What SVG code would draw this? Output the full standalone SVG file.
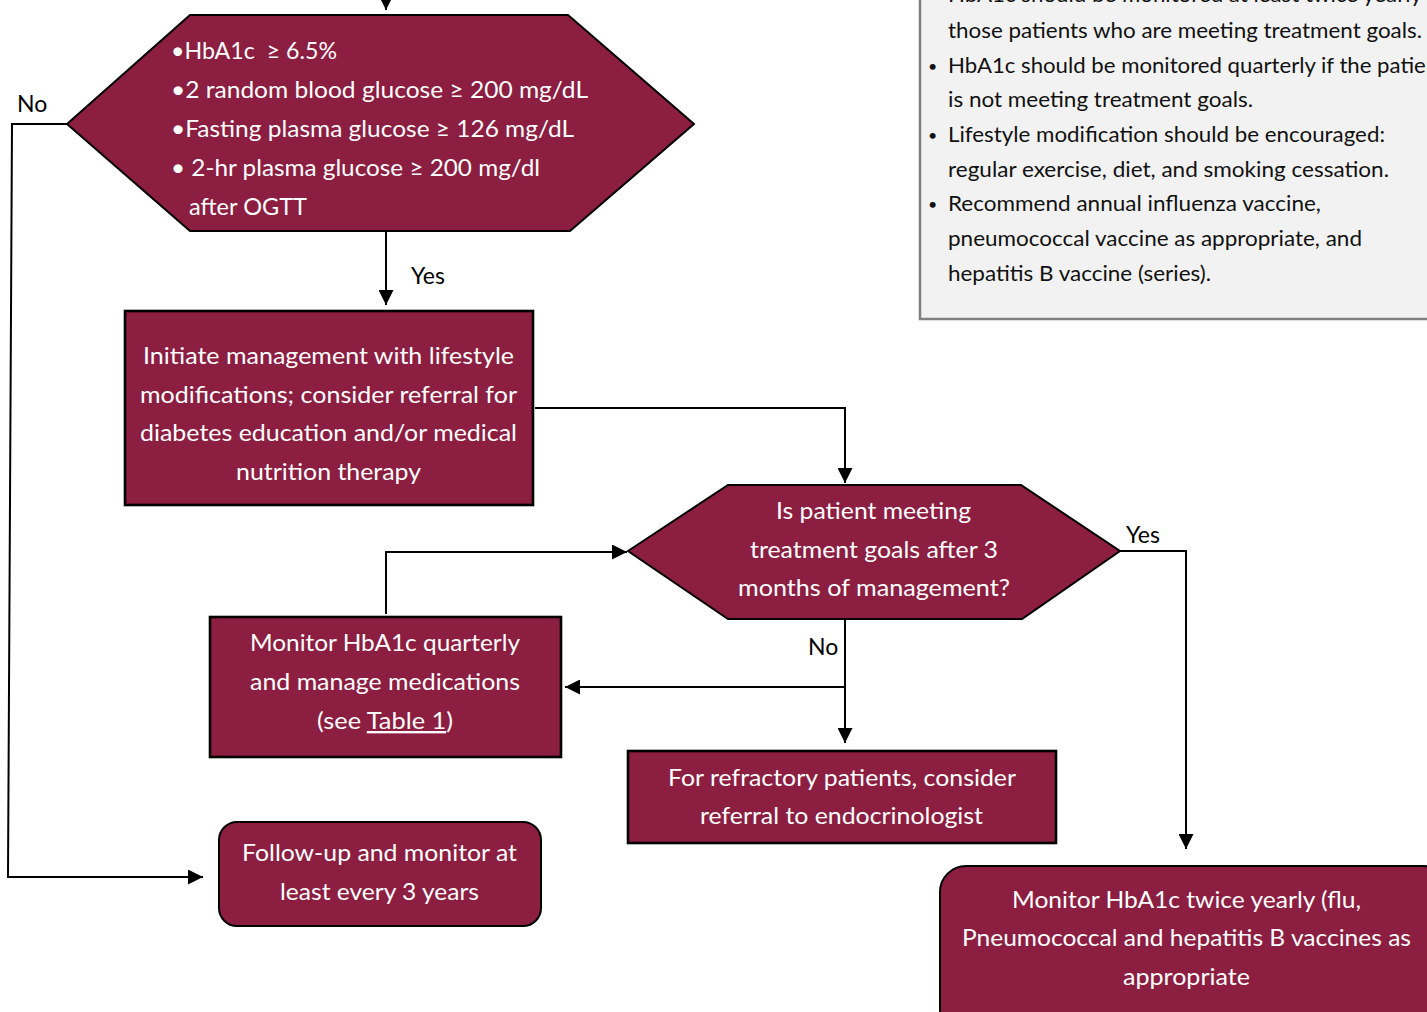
<svg xmlns="http://www.w3.org/2000/svg" width="1427" height="1012" viewBox="0 0 1427 1012">
<style>
.node{fill:#8b1e41;stroke:#000;stroke-width:2}
.thick{stroke-width:2.6}
.w{fill:#fff;font-family:Lato,"Liberation Sans",sans-serif;font-size:23.5px}
.lbl{fill:#000;font-family:Lato,"Liberation Sans",sans-serif;font-size:23px}
.note{fill:#111;font-family:Lato,"Liberation Sans",sans-serif;font-size:21.5px}
.bul{fill:#111;font-family:Lato,"Liberation Sans",sans-serif;font-size:16px}
.conn{fill:none;stroke:#000;stroke-width:2}
</style>
<defs>
<marker id="ah" markerUnits="userSpaceOnUse" markerWidth="15" markerHeight="15" refX="15" refY="7.5" orient="auto">
<path d="M0,0 L15,7.5 L0,15 z" fill="#000"/>
</marker>
</defs>
<rect width="1427" height="1012" fill="#fff"/>

<g id="notes">
<rect x="920" y="-10" width="520" height="329" fill="#f2f2f2" stroke="#808080" stroke-width="2.5"/>
<text class="bul" x="928" y="0">•</text>
<text class="note" x="948" y="2" textLength="474" lengthAdjust="spacingAndGlyphs">HbA1c should be monitored at least twice yearly</text>
<text class="note" x="948" y="38" textLength="474" lengthAdjust="spacingAndGlyphs">those patients who are meeting treatment goals.</text>
<text class="bul" x="928" y="72">•</text>
<text class="note" x="948" y="73" textLength="498" lengthAdjust="spacingAndGlyphs">HbA1c should be monitored quarterly if the patient</text>
<text class="note" x="948" y="107" textLength="305" lengthAdjust="spacingAndGlyphs">is not meeting treatment goals.</text>
<text class="bul" x="928" y="141">•</text>
<text class="note" x="948" y="142" textLength="437" lengthAdjust="spacingAndGlyphs">Lifestyle modification should be encouraged:</text>
<text class="note" x="948" y="177" textLength="441" lengthAdjust="spacingAndGlyphs">regular exercise, diet, and smoking cessation.</text>
<text class="bul" x="928" y="210">•</text>
<text class="note" x="948" y="211" textLength="373" lengthAdjust="spacingAndGlyphs">Recommend annual influenza vaccine,</text>
<text class="note" x="948" y="246" textLength="414" lengthAdjust="spacingAndGlyphs">pneumococcal vaccine as appropriate, and</text>
<text class="note" x="948" y="281" textLength="263" lengthAdjust="spacingAndGlyphs">hepatitis B vaccine (series).</text>
</g>

<g id="connectors">
<path class="conn" d="M386,-5 L386,10" marker-end="url(#ah)"/>
<path class="conn" d="M386,232 L386,305" marker-end="url(#ah)"/>
<path class="conn" d="M535,408 L845,408 L845,483" stroke-width="1.6" marker-end="url(#ah)"/>
<path class="conn" d="M1120,551 L1186,551 L1186,849" marker-end="url(#ah)"/>
<path class="conn" d="M845,619 L845,743" marker-end="url(#ah)"/>
<path class="conn" d="M845,687 L565,687" marker-end="url(#ah)"/>
<path class="conn" d="M386,614 L386,552 L627,552" marker-end="url(#ah)"/>
<path class="conn" d="M67,124 L12,124 L8,877 L203,877" marker-end="url(#ah)"/>
<text class="lbl" x="17" y="112">No</text>
<text class="lbl" x="411" y="284">Yes</text>
<text class="lbl" x="1126" y="543">Yes</text>
<text class="lbl" x="808" y="655">No</text>
</g>

<g id="criteria">
<polygon class="node" points="67,124 190,15 568,15 694,124 570,231 190,231"/>
<text class="w" x="171" y="59" xml:space="preserve" textLength="166" lengthAdjust="spacingAndGlyphs">•HbA1c  ≥ 6.5%</text>
<text class="w" x="171" y="98" textLength="417" lengthAdjust="spacingAndGlyphs">•2 random blood glucose ≥ 200 mg/dL</text>
<text class="w" x="171" y="137" textLength="403" lengthAdjust="spacingAndGlyphs">•Fasting plasma glucose ≥ 126 mg/dL</text>
<text class="w" x="171" y="176" textLength="369" lengthAdjust="spacingAndGlyphs">• 2-hr plasma glucose ≥ 200 mg/dl</text>
<text class="w" x="189" y="215" textLength="118" lengthAdjust="spacingAndGlyphs">after OGTT</text>
</g>

<g id="initiate">
<rect class="node thick" x="125" y="311" width="408" height="194"/>
<text class="w" x="143" y="364" textLength="371" lengthAdjust="spacingAndGlyphs">Initiate management with lifestyle</text>
<text class="w" x="140" y="403" textLength="377" lengthAdjust="spacingAndGlyphs">modifications; consider referral for</text>
<text class="w" x="140" y="441" textLength="377" lengthAdjust="spacingAndGlyphs">diabetes education and/or medical</text>
<text class="w" x="236" y="480" textLength="185" lengthAdjust="spacingAndGlyphs">nutrition therapy</text>
</g>

<g id="goals">
<polygon class="node" points="628,551 728,485 1021,485 1120,551 1022,619 728,619"/>
<text class="w" x="776" y="519" textLength="195" lengthAdjust="spacingAndGlyphs">Is patient meeting</text>
<text class="w" x="750" y="558" textLength="248" lengthAdjust="spacingAndGlyphs">treatment goals after 3</text>
<text class="w" x="738" y="596" textLength="272" lengthAdjust="spacingAndGlyphs">months of management?</text>
</g>

<g id="quarterly">
<rect class="node thick" x="210" y="617" width="351" height="140"/>
<text class="w" x="250" y="651" textLength="270" lengthAdjust="spacingAndGlyphs">Monitor HbA1c quarterly</text>
<text class="w" x="250" y="690" textLength="270" lengthAdjust="spacingAndGlyphs">and manage medications</text>
<text class="w" x="317" y="729" textLength="136" lengthAdjust="spacingAndGlyphs">(see <tspan text-decoration="underline">Table 1</tspan>)</text>
</g>

<g id="refractory">
<rect class="node thick" x="628" y="751" width="428" height="92"/>
<text class="w" x="668" y="786" textLength="348" lengthAdjust="spacingAndGlyphs">For refractory patients, consider</text>
<text class="w" x="700" y="824" textLength="283" lengthAdjust="spacingAndGlyphs">referral to endocrinologist</text>
</g>

<g id="followup">
<rect class="node" x="219" y="822" width="322" height="104" rx="18" ry="18"/>
<text class="w" x="242" y="861" textLength="275" lengthAdjust="spacingAndGlyphs">Follow-up and monitor at</text>
<text class="w" x="280" y="900" textLength="199" lengthAdjust="spacingAndGlyphs">least every 3 years</text>
</g>

<g id="twice">
<rect class="node" x="940" y="866" width="510" height="170" rx="26" ry="26"/>
<text class="w" x="1012" y="908" textLength="349" lengthAdjust="spacingAndGlyphs">Monitor HbA1c twice yearly (flu,</text>
<text class="w" x="962" y="946" textLength="449" lengthAdjust="spacingAndGlyphs">Pneumococcal and hepatitis B vaccines as</text>
<text class="w" x="1123" y="985" textLength="127" lengthAdjust="spacingAndGlyphs">appropriate</text>
</g>
</svg>
